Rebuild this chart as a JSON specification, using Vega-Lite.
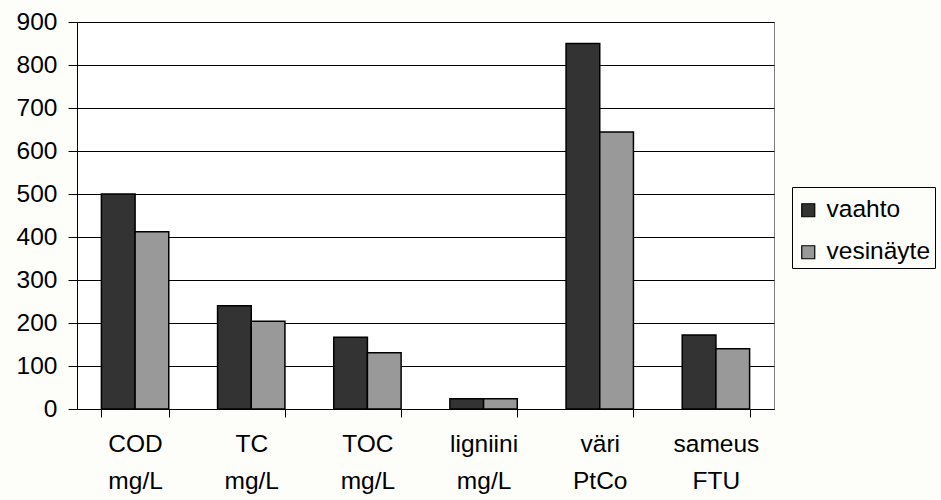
{
  "$schema": "https://vega.github.io/schema/vega-lite/v6.json",
  "width": 697,
  "height": 387,
  "autosize": {"type": "none"},
  "padding": {"left": 77, "top": 22, "right": 167, "bottom": 91},
  "background": "#fdfdfa",
  "config": {
    "font": "Liberation Sans",
    "view": {"fill": "white", "stroke": "#808080", "strokeWidth": 1}
  },
  "data": {
    "values": [
      {"muuttuja": "COD mg/L", "sarja": "vaahto", "arvo": 500},
      {"muuttuja": "COD mg/L", "sarja": "vesinäyte", "arvo": 412},
      {"muuttuja": "TC mg/L", "sarja": "vaahto", "arvo": 240},
      {"muuttuja": "TC mg/L", "sarja": "vesinäyte", "arvo": 204},
      {"muuttuja": "TOC mg/L", "sarja": "vaahto", "arvo": 167},
      {"muuttuja": "TOC mg/L", "sarja": "vesinäyte", "arvo": 131},
      {"muuttuja": "ligniini mg/L", "sarja": "vaahto", "arvo": 24},
      {"muuttuja": "ligniini mg/L", "sarja": "vesinäyte", "arvo": 24},
      {"muuttuja": "väri PtCo", "sarja": "vaahto", "arvo": 850},
      {"muuttuja": "väri PtCo", "sarja": "vesinäyte", "arvo": 644},
      {"muuttuja": "sameus FTU", "sarja": "vaahto", "arvo": 172},
      {"muuttuja": "sameus FTU", "sarja": "vesinäyte", "arvo": 140}
    ]
  },
  "mark": {"type": "bar", "stroke": "black", "strokeWidth": 1.5},
  "encoding": {
    "x": {
      "field": "muuttuja",
      "type": "nominal",
      "sort": null,
      "scale": {"paddingInner": 0.42, "paddingOuter": 0.21},
      "axis": {
        "title": null,
        "labelAngle": 0,
        "labelExpr": "split(datum.label, ' ')",
        "labelFontSize": 24.5,
        "labelLineHeight": 37,
        "labelColor": "black",
        "labelPadding": 15,
        "tickBand": "extent",
        "tickSize": 8,
        "tickColor": "black",
        "domainColor": "black"
      }
    },
    "xOffset": {"field": "sarja", "sort": ["vaahto", "vesinäyte"]},
    "y": {
      "field": "arvo",
      "type": "quantitative",
      "scale": {"domain": [0, 900], "nice": false},
      "axis": {
        "title": null,
        "values": [0, 100, 200, 300, 400, 500, 600, 700, 800, 900],
        "grid": true,
        "gridColor": "black",
        "gridOpacity": 1,
        "labelFontSize": 24.5,
        "labelColor": "black",
        "labelPadding": 11,
        "tickSize": 9,
        "tickColor": "black",
        "domainColor": "black"
      }
    },
    "color": {
      "field": "sarja",
      "type": "nominal",
      "scale": {"domain": ["vaahto", "vesinäyte"], "range": ["#333333", "#999999"]},
      "legend": {
        "title": " ",
        "titleFontSize": 4,
        "titlePadding": 3,
        "orient": "none",
        "legendX": 715,
        "legendY": 165,
        "symbolType": "square",
        "symbolSize": 169,
        "symbolStrokeColor": "black",
        "symbolStrokeWidth": 1.2,
        "symbolOpacity": 1,
        "labelFontSize": 24.5,
        "labelColor": "black",
        "labelOffset": 6,
        "rowPadding": 17,
        "padding": 4,
        "strokeColor": "black",
        "fillColor": "#fdfdfa"
      }
    }
  }
}
